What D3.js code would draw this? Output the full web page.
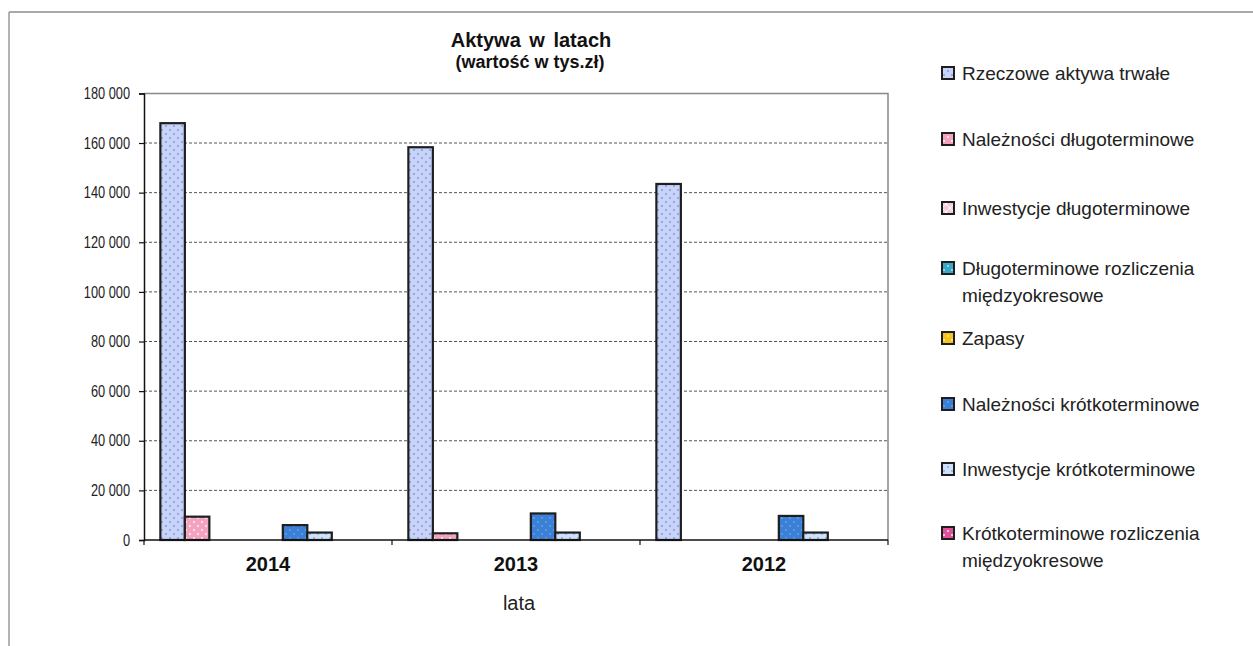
<!DOCTYPE html>
<html><head><meta charset="utf-8">
<script src="https://cdn.jsdelivr.net/npm/d3@7"></script>
<style>
body{margin:0;background:#fff;}
text{font-family:"Liberation Sans",Arial,sans-serif;}
</style></head>
<body>
<svg id="chart" width="1253" height="646"></svg>
<script>
// ---- data ----
const categories = ["2014", "2013", "2012"];
const seriesNames = [
  "Rzeczowe aktywa trwałe",
  "Należności długoterminowe",
  "Inwestycje długoterminowe",
  "Długoterminowe rozliczenia międzyokresowe",
  "Zapasy",
  "Należności krótkoterminowe",
  "Inwestycje krótkoterminowe",
  "Krótkoterminowe rozliczenia międzyokresowe"
];
const rzeczoweAktywa      = [168000, 158300, 143500];
const naleznosciDlugo     = [9400, 2700, 0];
const inwestycjeDlugo     = [0, 0, 0];
const rozliczeniaDlugo    = [0, 0, 0];
const zapasy              = [0, 0, 0];
const naleznosciKrotko    = [6000, 10700, 9700];
const inwestycjeKrotko    = [3000, 3000, 3000];
const rozliczeniaKrotko   = [0, 0, 0];
const yTicks = [0, 20000, 40000, 60000, 80000, 100000, 120000, 140000, 160000, 180000];
const legendLines = [
  ["Rzeczowe aktywa trwałe"],
  ["Należności długoterminowe"],
  ["Inwestycje długoterminowe"],
  ["Długoterminowe rozliczenia", "międzyokresowe"],
  ["Zapasy"],
  ["Należności krótkoterminowe"],
  ["Inwestycje krótkoterminowe"],
  ["Krótkoterminowe rozliczenia", "międzyokresowe"]
];
const seriesValues = [rzeczoweAktywa, naleznosciDlugo, inwestycjeDlugo, rozliczeniaDlugo,
  zapasy, naleznosciKrotko, inwestycjeKrotko, rozliczeniaKrotko];

// ---- styles ----
const fills = ["#c7d3f7", "#f3a3bf", "#f6cdd6", "#3aa9c9", "#f4c51c", "#3a80d6", "#cfe1fb", "#e2519c"];
const dots  = ["#7f90dc", "#ffffff", "#ffffff", "#bfe8f2", "#fff2a0", "#6fa5e6", "#7fa6e0", "#ffffff"];

const svg = d3.select("#chart");
const defs = svg.append("defs");
fills.forEach((f, i) => {
  const p = defs.append("pattern").attr("id", "pat" + i)
    .attr("patternUnits", "userSpaceOnUse").attr("width", 8).attr("height", 8);
  p.append("rect").attr("width", 8).attr("height", 8).attr("fill", f);
  if (i === 2) {
    p.append("path").attr("d", "M0,0L8,8M8,0L0,8").attr("stroke", "#ffffff").attr("stroke-width", 1);
  } else {
    p.append("circle").attr("cx", 2).attr("cy", 2).attr("r", 0.9).attr("fill", dots[i]);
    p.append("circle").attr("cx", 6).attr("cy", 6).attr("r", 0.9).attr("fill", dots[i]);
  }
});

// outer frame
svg.append("line").attr("x1", 9).attr("x2", 1253).attr("y1", 12).attr("y2", 12).attr("stroke", "#8a8f8a").attr("stroke-width", 1.5);
svg.append("line").attr("x1", 9).attr("x2", 9).attr("y1", 12).attr("y2", 646).attr("stroke", "#9a9a9a").attr("stroke-width", 1.5);

const plotL = 144, plotR = 888, plotT = 93.4, plotB = 540;
const x0 = d3.scaleBand().domain(categories).range([plotL, plotR]).padding(0);
const bw = x0.bandwidth();
const x1 = d3.scaleBand().domain(d3.range(seriesNames.length))
  .range([bw * 0.066, bw * 0.066 + bw * 0.79]).padding(0);
const y = d3.scaleLinear().domain([0, 180000]).range([plotB, plotT]);

// gridlines
svg.append("g").selectAll("line").data(yTicks.filter(t => t > 0 && t < 180000)).join("line")
  .attr("x1", plotL).attr("x2", plotR).attr("y1", d => y(d)).attr("y2", d => y(d))
  .attr("stroke", "#555").attr("stroke-width", 1).attr("stroke-dasharray", "3,2");
// plot border top/right
svg.append("path").attr("d", `M${plotL},${y(180000)}H${plotR}V${plotB}`)
  .attr("fill", "none").attr("stroke", "#888").attr("stroke-width", 1.5);

// bars
const gCat = svg.append("g").selectAll("g").data(categories).join("g")
  .attr("transform", d => `translate(${x0(d)},0)`);
gCat.selectAll("rect").data((c, ci) => seriesValues.map((vals, si) => ({si, v: vals[ci]})).filter(d => d.v > 0))
  .join("rect")
  .attr("x", d => x1(d.si)).attr("width", x1.bandwidth())
  .attr("y", d => y(d.v)).attr("height", d => y(0) - y(d.v))
  .attr("fill", d => `url(#pat${d.si})`)
  .attr("stroke", "#1e1e1e").attr("stroke-width", 2.2);

// y axis
const yScaleX = 0.8;
const yAxis = svg.append("g").attr("transform", `translate(${plotL},0)`)
  .call(d3.axisLeft(y).tickValues(yTicks).tickSize(5).tickPadding(8)
    .tickFormat(d => d3.format(",")(d).replace(/,/g, " ")));
yAxis.select(".domain").attr("stroke", "#111").attr("stroke-width", 1.5);
yAxis.selectAll(".tick line").attr("stroke", "#111").attr("stroke-width", 1.2);
yAxis.selectAll(".tick text").attr("font-size", 16).attr("fill", "#222")
  .attr("x", -14 / yScaleX).attr("transform", `scale(${yScaleX},1)`);

// x axis
const xAxisG = svg.append("g").attr("transform", `translate(0,${plotB})`);
xAxisG.append("line").attr("x1", plotL).attr("x2", plotR).attr("stroke", "#111").attr("stroke-width", 1.5);
xAxisG.selectAll(".xt").data(categories).join("line").attr("class", "xt")
  .attr("x1", d => x0(d) + bw).attr("x2", d => x0(d) + bw).attr("y1", 0).attr("y2", 5)
  .attr("stroke", "#111").attr("stroke-width", 1.2);
xAxisG.append("line").attr("x1", plotL).attr("x2", plotL).attr("y1", 0).attr("y2", 5).attr("stroke", "#111").attr("stroke-width", 1.2);
xAxisG.selectAll(".xl").data(categories).join("text").attr("class", "xl")
  .attr("x", d => x0(d) + bw / 2).attr("y", 31).attr("text-anchor", "middle")
  .attr("font-size", 20).attr("font-weight", "bold").attr("fill", "#111").text(d => d);

// axis title
svg.append("text").attr("x", x0("2013") + bw / 2 + 3).attr("y", 610).attr("text-anchor", "middle")
  .attr("font-size", 20).attr("fill", "#222").text("lata");

// title
svg.append("text").attr("x", 531).attr("y", 47).attr("text-anchor", "middle")
  .attr("font-size", 20).attr("font-weight", "bold").attr("fill", "#111")
  .attr("word-spacing", 3).text("Aktywa w latach");
svg.append("text").attr("x", 530).attr("y", 68).attr("text-anchor", "middle")
  .attr("font-size", 18).attr("font-weight", "bold").attr("fill", "#111").text("(wartość w tys.zł)");

// legend
const legendY = [73, 139, 208, 268, 338, 404, 469, 533];
const lg = svg.append("g").selectAll("g").data(legendLines).join("g")
  .attr("transform", (d, i) => `translate(942,${legendY[i]})`);
lg.append("rect").attr("x", 0).attr("y", -6).attr("width", 12).attr("height", 12)
  .attr("fill", (d, i) => `url(#pat${i})`).attr("stroke", "#1e1e1e").attr("stroke-width", 2);
lg.each(function(lines) {
  const t = d3.select(this).append("text").attr("x", 20).attr("y", 6.5)
    .attr("font-size", 19).attr("fill", "#222");
  lines.forEach((ln, k) => t.append("tspan").attr("x", 20).attr("dy", k === 0 ? 0 : 27).text(ln));
});
</script>
</body></html>
